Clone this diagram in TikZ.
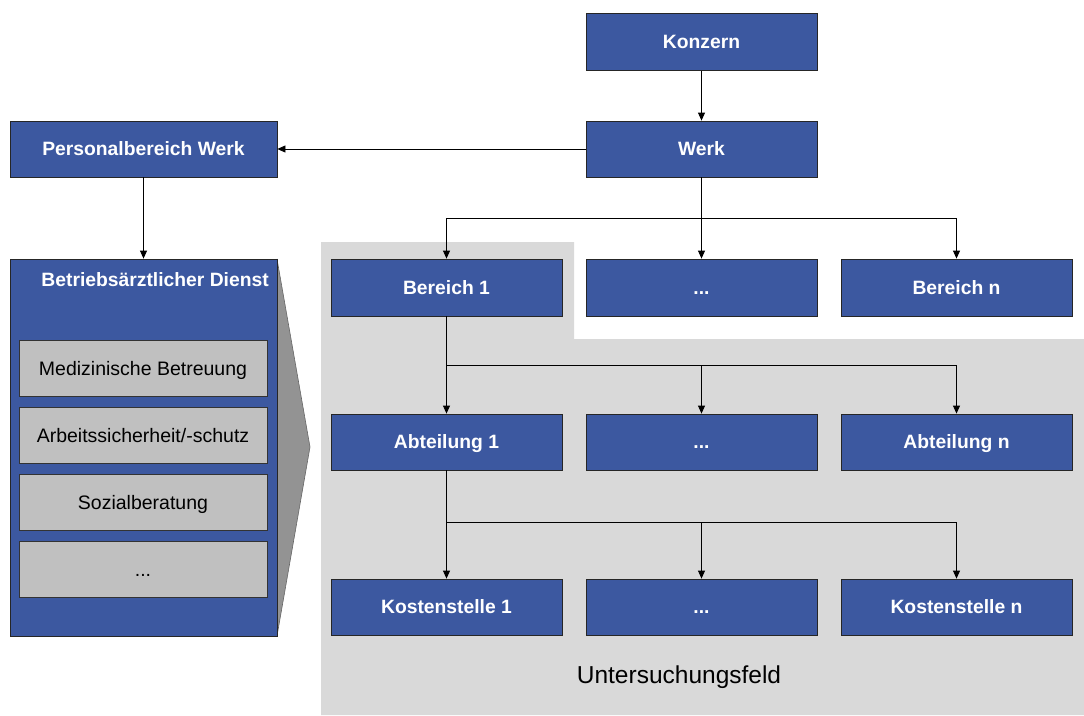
\documentclass[tikz,border=0pt]{standalone}
\usepackage{fontspec}
\setmainfont{Liberation Sans}
\usetikzlibrary{arrows.meta}
\definecolor{boxblue}{HTML}{3C58A0}
\definecolor{fieldgray}{HTML}{D9D9D9}
\definecolor{taskgray}{HTML}{C0C0C0}
\definecolor{chevgray}{HTML}{939393}
\tikzset{
  orgbox/.style={draw=black!85, line width=0.8pt, fill=boxblue, text=white,
    font=\fontsize{19.3}{22}\selectfont\bfseries, minimum width=231pt,
    minimum height=57pt, inner sep=0pt, text height=13.8pt, text depth=0pt},
  taskbox/.style={draw=black!80, line width=0.8pt, fill=taskgray, text=black,
    font=\fontsize{19.5}{22}\selectfont, minimum width=248pt,
    minimum height=56pt, inner sep=0pt, text height=14pt, text depth=0pt},
  arr/.style={-{Triangle[length=8pt,width=7pt]}, line width=0.8pt, black}
}
\begin{document}
\begin{tikzpicture}[x=1pt,y=-1pt]
\useasboundingbox (0,0) rectangle (1084,715);
% study area background
\fill[fieldgray] (321,242) -- (574,242) -- (574,339) -- (1084,339)
  -- (1084,715) -- (321,715) -- cycle;
\node[font=\fontsize{24.5}{28}\selectfont, inner sep=0pt, text height=17.5pt, text depth=0pt]
  (feld) at (679,675) {Untersuchungsfeld};

% hierarchy
\node[orgbox] (konzern) at (701.5,42) {Konzern};
\node[orgbox, minimum height=56pt] (werk) at (701.5,149) {Werk};
\node[orgbox, minimum width=267pt, minimum height=56pt] (pb) at (143.5,149) {Personalbereich Werk};

\node[orgbox] (b1) at (446.5,287.5) {Bereich 1};
\node[orgbox] (b2) at (701.5,287.5) {...};
\node[orgbox] (bn) at (956.5,287.5) {Bereich n};

\node[orgbox, minimum height=56pt] (a1) at (446.5,442) {Abteilung 1};
\node[orgbox, minimum height=56pt] (a2) at (701.5,442) {...};
\node[orgbox, minimum height=56pt] (an) at (956.5,442) {Abteilung n};

\node[orgbox, minimum height=56pt] (k1) at (446.5,607) {Kostenstelle 1};
\node[orgbox, minimum height=56pt] (k2) at (701.5,607) {...};
\node[orgbox, minimum height=56pt] (kn) at (956.5,607) {Kostenstelle n};

% occupational health service with its tasks
\fill[chevgray, draw=black!60, line width=0.6pt] (277,259) -- (310,447) -- (277,636) -- cycle;
\node[orgbox, minimum width=267pt, minimum height=377pt, text height=0pt] (bad) at (143.5,447.5) {};
\node[anchor=east, text=white, font=\fontsize{19.3}{22}\selectfont\bfseries, inner sep=0pt]
  (badtitle) at (269,280) {Betriebsärztlicher Dienst};
\node[taskbox] (t1) at (143,368) {Medizinische Betreuung};
\node[taskbox] (t2) at (143,435) {Arbeitssicherheit/-schutz};
\node[taskbox] (t3) at (143,502) {Sozialberatung};
\node[taskbox] (t4) at (143,569) {...};

% connectors
\draw[arr] (konzern) -- (werk);
\draw[arr] (werk.west) -- (pb.east);
\draw[arr] (pb.south) -- (bad.north);
\foreach \t in {b1,b2,bn} \draw[arr] (werk.south) -- ++(0,41) -| (\t.north);
\foreach \t in {a1,a2,an} \draw[arr] (b1.south) -- ++(0,49) -| (\t.north);
\foreach \t in {k1,k2,kn} \draw[arr] (a1.south) -- ++(0,52) -| (\t.north);
\end{tikzpicture}
\end{document}
